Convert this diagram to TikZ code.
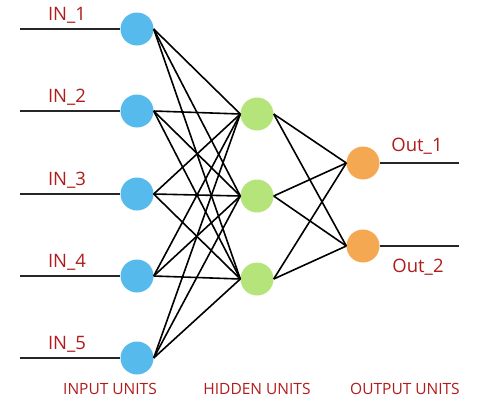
\documentclass[tikz,border=0pt]{standalone}
\usepackage{fontspec}
\setmainfont{Open Sans}
\definecolor{inblue}{HTML}{56BAEC}
\definecolor{hidgreen}{HTML}{B4E47A}
\definecolor{outorange}{HTML}{F5A852}
\definecolor{labred}{HTML}{B01C1C}
\begin{document}
\begin{tikzpicture}[x=1pt,y=-1pt,
  unit/.style={circle,minimum size=33pt,inner sep=0pt},
  inunit/.style={unit,fill=inblue},
  hidunit/.style={unit,fill=hidgreen},
  outunit/.style={unit,fill=outorange},
  lab/.style={text=labred,font=\fontsize{18.5}{20}\selectfont,inner sep=0pt},
  layercap/.style={text=labred,font=\fontsize{15.5}{17}\selectfont,inner sep=0pt},
  conn/.style={draw=black,line width=1.6pt},
  lead/.style={draw=black!85,line width=2pt}]
\useasboundingbox (0,0) rectangle (500,400);
\foreach \i/\y in {1/29,2/111,3/194,4/276,5/358}{
  \node[inunit] (i\i) at (137,\y) {};
  \coordinate (s\i) at (20,\y);
  \node[lab] (l\i) at (67,\y-14) {IN\_\i};
  \draw[lead] (s\i) -- (i\i.west);
}
\foreach \j/\y in {1/114,2/196,3/279}{
  \node[hidunit] (h\j) at (257,\y) {};
}
\node[outunit] (o1) at (363,163) {};
\node[outunit] (o2) at (363,246) {};
\coordinate (e1) at (459,163);
\coordinate (e2) at (459,246);
\draw[lead] (o1.east) -- (e1);
\draw[lead] (o2.east) -- (e2);
\node[lab] (ol1) at (417,146) {Out\_1};
\node[lab] (ol2) at (418,267) {Out\_2};
\foreach \i in {1,...,5}{
  \foreach \j in {1,2,3}{
    \draw[conn] (i\i.east) -- (h\j.west);
  }
}
\foreach \j in {1,2,3}{
  \foreach \k in {1,2}{
    \draw[conn] (h\j.east) -- (o\k.west);
  }
}
\node[layercap] (c1) at (110,389) {INPUT UNITS};
\node[layercap] (c2) at (257,389) {HIDDEN UNITS};
\node[layercap] (c3) at (405,389) {OUTPUT UNITS};
\end{tikzpicture}
\end{document}
